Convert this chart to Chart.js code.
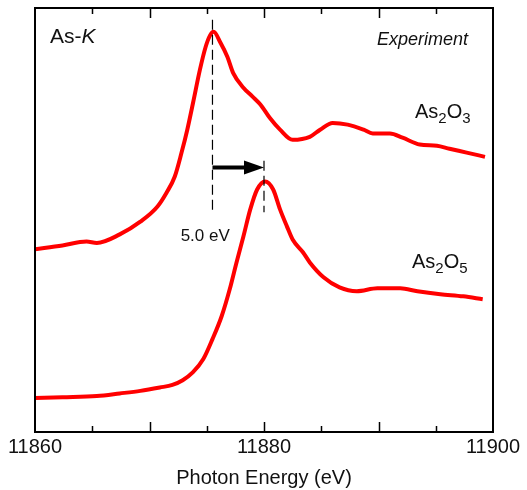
<!DOCTYPE html>
<html>
<head>
<meta charset="utf-8">
<script src="https://cdn.jsdelivr.net/npm/chart.js@4/dist/chart.umd.min.js"></script>
<style>
  html, body { margin: 0; padding: 0; background: #fff; }
  canvas { display: block; }
</style>
</head>
<body>
<canvas id="xanes" width="527" height="490"></canvas>
<script>
// As-K edge XANES, photon energy (eV) vs normalized absorption (offset)
var energyAs2O3 = [11860.0, 11862.4, 11864.5, 11865.4, 11867.4, 11869.2, 11870.7, 11871.5, 11872.2, 11872.8,
  11873.3, 11873.8, 11874.4, 11874.9, 11875.3, 11875.6, 11876.2, 11876.8, 11877.3, 11878.2,
  11879.0, 11879.7, 11880.5, 11881.4, 11882.5, 11884.0, 11884.9, 11886.0, 11887.3, 11888.7,
  11889.5, 11891.0, 11892.1, 11893.6, 11895.1, 11896.2, 11897.7, 11899.3];
var muAs2O3 = [0.431, 0.440, 0.449, 0.446, 0.466, 0.496, 0.532, 0.565, 0.602, 0.659,
  0.713, 0.776, 0.854, 0.908, 0.936, 0.944, 0.918, 0.885, 0.847, 0.812,
  0.791, 0.772, 0.741, 0.713, 0.689, 0.696, 0.713, 0.729, 0.725, 0.713,
  0.704, 0.704, 0.694, 0.678, 0.675, 0.668, 0.659, 0.649];

var energyAs2O5 = [11860.0, 11862.4, 11865.4, 11867.4, 11869.2, 11870.9, 11872.0, 11872.9, 11873.8, 11874.7,
  11875.5, 11876.3, 11877.0, 11877.6, 11878.2, 11878.8, 11879.4, 11880.1, 11880.8, 11881.4,
  11882.0, 11882.5, 11883.4, 11884.0, 11885.2, 11886.6, 11888.1, 11889.9, 11891.9, 11893.4,
  11895.4, 11897.4, 11899.1];
var muAs2O5 = [0.080, 0.082, 0.085, 0.091, 0.097, 0.105, 0.111, 0.122, 0.141, 0.172,
  0.219, 0.273, 0.336, 0.400, 0.461, 0.525, 0.572, 0.591, 0.572, 0.525,
  0.485, 0.454, 0.424, 0.400, 0.365, 0.341, 0.332, 0.339, 0.339, 0.332,
  0.325, 0.320, 0.313];

var xTickLabels = [11860, 11880, 11900];
var peakAs2O3 = 11875.5;
var peakAs2O5 = 11880.0;

var FONT = '"Liberation Sans", Arial, sans-serif';

function toPoints(xs, ys) {
  return xs.map(function (x, i) { return { x: x, y: ys[i] }; });
}

// draws "As" + sub + "O" + sub, left edge at x, middle at y
function chemLabel(ctx, x, y, a, b) {
  ctx.textBaseline = 'middle';
  ctx.textAlign = 'left';
  var parts = [['As', 0], [a, 1], ['O', 0], [b, 1]];
  parts.forEach(function (p) {
    ctx.font = (p[1] ? '15px ' : '20px ') + FONT;
    ctx.fillText(p[0], x, y + (p[1] ? 7 : 0));
    x += ctx.measureText(p[0]).width;
  });
}

var notes = {
  id: 'notes',
  afterDraw: function (chart) {
    var ctx = chart.ctx, ca = chart.chartArea;
    var xs = chart.scales.x, ys = chart.scales.y;
    ctx.save();

    // frame
    ctx.strokeStyle = '#000';
    ctx.lineWidth = 2;
    ctx.strokeRect(ca.left, ca.top, ca.right - ca.left, ca.bottom - ca.top);

    // inward ticks, top and bottom
    ctx.lineWidth = 1.5;
    for (var e = 11865; e < 11900; e += 5) {
      var px = Math.round(xs.getPixelForValue(e)) + 0.5;
      var len = e % 10 === 0 ? 10 : 6;
      ctx.beginPath();
      ctx.moveTo(px, ca.bottom); ctx.lineTo(px, ca.bottom - len);
      ctx.moveTo(px, ca.top); ctx.lineTo(px, ca.top + len);
      ctx.stroke();
    }

    // dashed peak markers
    ctx.setLineDash([10, 5]);
    ctx.lineWidth = 1.2;
    var p1 = xs.getPixelForValue(peakAs2O3), p2 = xs.getPixelForValue(peakAs2O5);
    ctx.beginPath();
    ctx.moveTo(p1, ys.getPixelForValue(0.972)); ctx.lineTo(p1, ys.getPixelForValue(0.513));
    ctx.moveTo(p2, ys.getPixelForValue(0.640)); ctx.lineTo(p2, ys.getPixelForValue(0.518));
    ctx.stroke();
    ctx.setLineDash([]);

    // shift arrow
    var ay = ys.getPixelForValue(0.624);
    ctx.lineWidth = 4;
    ctx.beginPath();
    ctx.moveTo(p1, ay); ctx.lineTo(p2 - 16, ay);
    ctx.stroke();
    ctx.fillStyle = '#000';
    ctx.beginPath();
    ctx.moveTo(p2, ay); ctx.lineTo(p2 - 20, ay - 7); ctx.lineTo(p2 - 20, ay + 7);
    ctx.closePath();
    ctx.fill();

    // texts
    ctx.fillStyle = '#111';
    ctx.textBaseline = 'middle';
    ctx.textAlign = 'center';
    ctx.font = '17px ' + FONT;
    ctx.fillText('5.0 eV', (p1 + p2) / 2 - 33, ys.getPixelForValue(0.461));

    ctx.textAlign = 'left';
    ctx.font = '21px ' + FONT;
    ctx.fillText('As-', ca.left + 15, ca.top + 29);
    var w = ctx.measureText('As-').width;
    ctx.font = 'italic 21px ' + FONT;
    ctx.fillText('K', ca.left + 15 + w, ca.top + 29);

    ctx.font = 'italic 18px ' + FONT;
    ctx.fillText('Experiment', ca.right - 116, ca.top + 32);

    chemLabel(ctx, ca.right - 78, ca.top + 104, '2', '3');
    chemLabel(ctx, ca.right - 81, ca.top + 254, '2', '5');

    ctx.restore();
  }
};

var chart = new Chart(document.getElementById('xanes').getContext('2d'), {
  type: 'line',
  data: {
    datasets: [{
      label: 'As2O3',
      data: toPoints(energyAs2O3, muAs2O3),
      borderColor: '#ff0000',
      borderWidth: 4,
      pointRadius: 0,
      cubicInterpolationMode: 'monotone',
      fill: false
    }, {
      label: 'As2O5',
      data: toPoints(energyAs2O5, muAs2O5),
      borderColor: '#ff0000',
      borderWidth: 4,
      pointRadius: 0,
      cubicInterpolationMode: 'monotone',
      fill: false
    }]
  },
  options: {
    responsive: false,
    animation: false,
    devicePixelRatio: 1,
    layout: { padding: { left: 35, right: 34, top: 8, bottom: 0 } },
    plugins: { legend: { display: false }, tooltip: { enabled: false } },
    scales: {
      x: {
        type: 'linear',
        min: 11860,
        max: 11900,
        afterBuildTicks: function (axis) {
          axis.ticks = xTickLabels.map(function (v) { return { value: v }; });
        },
        grid: { display: false, drawTicks: false },
        border: { display: false },
        ticks: {
          color: '#111',
          font: { family: FONT, size: 20 },
          padding: 3,
          maxRotation: 0,
          callback: function (v) { return String(v); }
        },
        title: {
          display: true,
          text: 'Photon Energy (eV)',
          color: '#111',
          font: { family: FONT, size: 20 },
          padding: { top: 4, bottom: 0 }
        }
      },
      y: { display: false, min: 0, max: 1 }
    }
  },
  plugins: [notes]
});
</script>
</body>
</html>
